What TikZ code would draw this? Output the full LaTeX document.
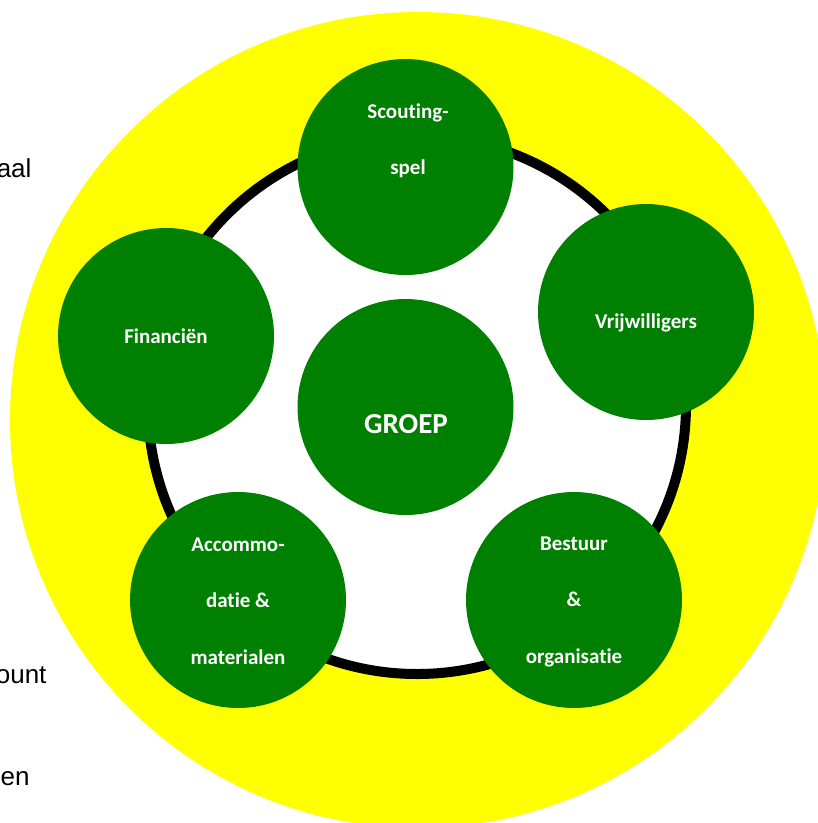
\documentclass[tikz,border=0pt]{standalone}
\usepackage{fontspec}
\setmainfont{Carlito}[Ligatures={NoCommon}]
\newfontfamily\arialfont{Liberation Sans}
\definecolor{scoutgreen}{RGB}{0,128,0}
\definecolor{scoutyellow}{RGB}{255,255,0}
\tikzset{
  blob/.style={circle,fill=scoutgreen,minimum size=216pt,inner sep=0pt},
  blobtext/.style={text=white,align=center,font=\bfseries\fontsize{21}{56.5}\selectfont},
  margintext/.style={anchor=base east,font=\arialfont\fontsize{26}{30}\selectfont}
}
\begin{document}
\begin{tikzpicture}[x=1pt,y=-1pt]
        \clip (0,0) rectangle (818,823);
        % text behind the disc
        \node (txtA) [margintext] at (35,177) {aal};
        \node (txtB) [margintext] at (50,683) {ount};
        \node (txtC) [margintext] at (33,785) {en};
        % yellow disc and ring
        \node (veld) [circle,fill=scoutyellow,minimum size=816pt,inner sep=0pt] at (418,420) {};
        \node (ring) [circle,draw=black,line width=10pt,fill=white,minimum size=538pt,inner sep=0pt] at (417,405) {};
        % centre
        \node (groep) [blob] at (405.5,407) {};
        \node (groeptxt) [blobtext,font=\bfseries\fontsize{29}{35}\selectfont] at (406,424) {GROEP};
        % scouting-spel
        \node (spel) [blob] at (405.5,167) {};
        \node (speltxt) [blobtext] at (408,141) {Scouting-\\spel};
        % vrijwilligers
        \node (vrijw) [blob] at (646,312) {};
        \node (vrijwtxt) [blobtext] at (646,323) {Vrijwilligers};
        % financien
        \node (fin) [blob] at (166,336) {};
        \node (fintxt) [blobtext] at (166,336) {Financiën};
        % accommodatie
        \node (acc) [blob] at (238,600) {};
        \node (acctxt) [blobtext] at (238,601) {Accommo-\\datie \&\\materialen};
        % bestuur
        \node (best) [blob] at (574,600) {};
        \node (besttxt) [blobtext] at (574,601.5) {Bestuur\\\&\\organisatie};
    \end{tikzpicture}
\end{document}
